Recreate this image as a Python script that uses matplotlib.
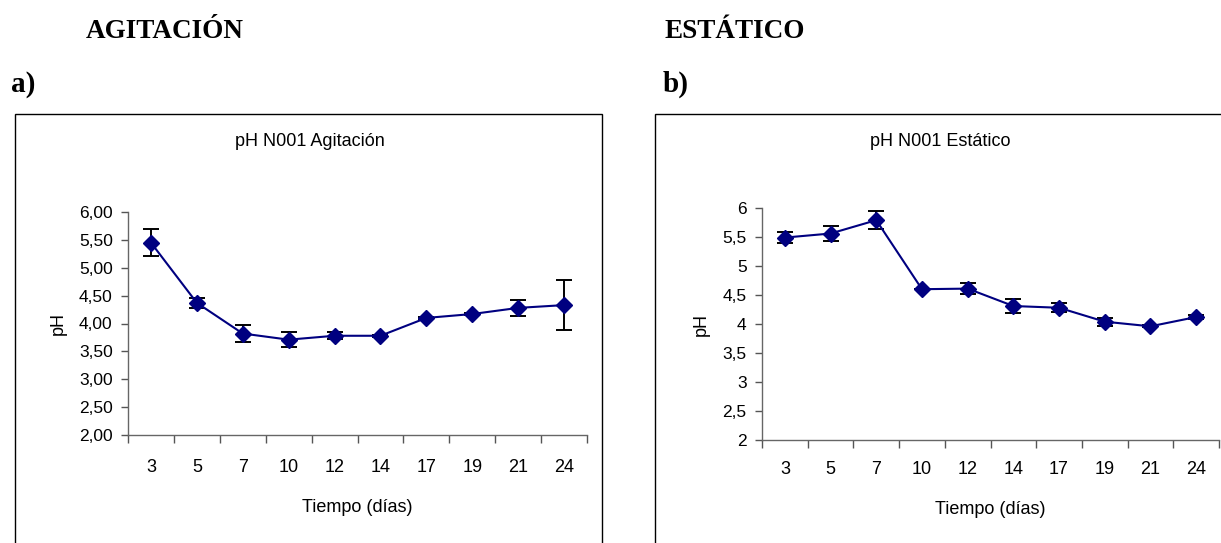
import numpy as np
import matplotlib.pyplot as plt
from matplotlib.patches import Rectangle
from matplotlib.ticker import FixedLocator, NullFormatter

# data
dias = ["3", "5", "7", "10", "12", "14", "17", "19", "21", "24"]
ph_agitacion = [5.45, 4.37, 3.82, 3.71, 3.78, 3.78, 4.10, 4.17, 4.28, 4.33]
err_agitacion = [0.24, 0.09, 0.16, 0.14, 0.06, 0.02, 0.02, 0.02, 0.15, 0.45]
ph_estatico = [5.49, 5.56, 5.79, 4.60, 4.61, 4.31, 4.28, 4.04, 3.96, 4.12]
err_estatico = [0.09, 0.13, 0.16, 0.0, 0.10, 0.12, 0.08, 0.07, 0.02, 0.03]

W, H = 1221, 543
fig = plt.figure(figsize=(W / 100, H / 100), dpi=100)
sans = "Liberation Sans"
serif = "Liberation Serif"
navy = "#000080"
fs = 13


def px(x, y):
    # pixel coords (top-left origin) -> figure fraction
    return x / W, 1 - y / H


def panel(rect, vals, errs, ylabels, box, tpad):
    # frame around the chart, like the Excel chart area
    bx0, by0, bx1 = box
    fig.patches.append(Rectangle(px(bx0, 600), (bx1 - bx0) / W, (600 - by0) / H,
                                 transform=fig.transFigure, fill=False,
                                 edgecolor="black", linewidth=1.0))
    l, t, r, b = rect
    ax = fig.add_axes([l / W, 1 - b / H, (r - l) / W, (b - t) / H])
    x = np.arange(len(dias))
    ax.errorbar(x, vals, yerr=errs, fmt="none", ecolor="black",
                elinewidth=1.4, capsize=5.5, capthick=1.4, zorder=2)
    ax.plot(x, vals, color=navy, linewidth=1.5, marker="D", markersize=8,
            markerfacecolor=navy, markeredgecolor=navy, zorder=3)
    ax.set_xlim(-0.5, len(dias) - 0.5)
    ax.set_ylim(2, 6)
    ax.set_yticks(np.arange(2, 6.01, 0.5))
    ax.set_yticklabels(ylabels, fontfamily=sans, fontsize=12.5)
    ax.xaxis.set_major_locator(FixedLocator(np.arange(-0.5, len(dias), 1.0)))
    ax.xaxis.set_major_formatter(NullFormatter())
    ax.xaxis.set_minor_locator(FixedLocator(x))
    ax.set_xticklabels(dias, minor=True, fontfamily=sans, fontsize=fs)
    ax.tick_params(axis="x", which="major", direction="out", length=6,
                   width=1, color="#555555")
    ax.tick_params(axis="x", which="minor", length=0, pad=tpad)
    ax.tick_params(axis="y", direction="out", length=5, width=1,
                   color="#555555", pad=6)
    for s in ["top", "right"]:
        ax.spines[s].set_visible(False)
    for s in ["left", "bottom"]:
        ax.spines[s].set_color("#666666")
        ax.spines[s].set_linewidth(1.0)
    ax.set_xlabel("Tiempo (días)", fontfamily=sans, fontsize=fs, labelpad=17)
    ax.set_ylabel("pH", fontfamily=sans, fontsize=fs, labelpad=9)
    ax.patch.set_alpha(0)
    return ax


lab_a = ["2,00", "2,50", "3,00", "3,50", "4,00", "4,50", "5,00", "5,50", "6,00"]
lab_b = ["2", "2,5", "3", "3,5", "4", "4,5", "5", "5,5", "6"]

panel((128, 212, 587, 435), ph_agitacion, err_agitacion, lab_a,
      (15, 114, 602), 17)
panel((762, 208, 1219, 440), ph_estatico, err_estatico, lab_b,
      (655, 114, 1230), 15)

# chart titles
fig.text(*px(310, 142), "pH N001 Agitación", fontfamily=sans, fontsize=fs,
         ha="center", va="center")
fig.text(*px(940, 142), "pH N001 Estático", fontfamily=sans, fontsize=fs,
         ha="center", va="center")

# headings
fig.text(*px(165, 31), "AGITACIÓN", fontfamily=serif, fontweight="bold",
         fontsize=19.5, ha="center", va="center")
fig.text(*px(735, 31), "ESTÁTICO", fontfamily=serif, fontweight="bold",
         fontsize=19.5, ha="center", va="center")
fig.text(*px(11, 84), "a)", fontfamily=serif, fontweight="bold",
         fontsize=21, ha="left", va="center")
fig.text(*px(663, 84), "b)", fontfamily=serif, fontweight="bold",
         fontsize=21, ha="left", va="center")

fig.savefig("out.png", dpi=100)
